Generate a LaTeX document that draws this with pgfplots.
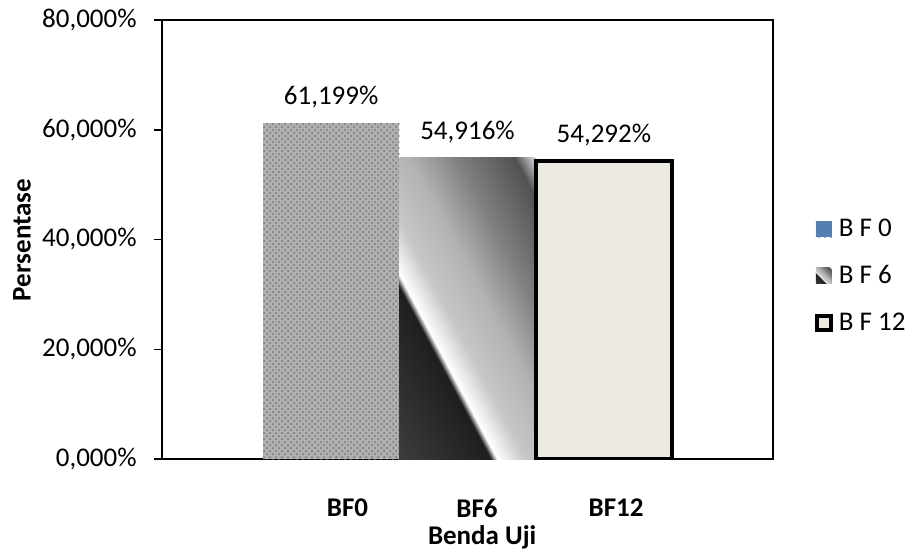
\documentclass[border=0pt]{standalone}
\usepackage{fontspec}
\setmainfont{Carlito}
\usepackage{pgfplots}
\pgfplotsset{compat=1.18}
\usetikzlibrary{patterns}

\definecolor{beige236233224}{RGB}{236,233,224}
\definecolor{steelblue79129189}{RGB}{79,129,189}
\definecolor{gray175}{RGB}{175,175,175}

\pgfdeclarehorizontalshading{bfsix}{100bp}{%
  color(0bp)=(black!75); color(14bp)=(black!75); color(37bp)=(black!88);
  color(38.5bp)=(white); color(45bp)=(black!22); color(55bp)=(black!30);
  color(66bp)=(black!50); color(79bp)=(black!68); color(85bp)=(white);
  color(100bp)=(white)}

\begin{document}
\begin{tikzpicture}[font=\fontsize{13.5}{16}\selectfont]

\begin{axis}[
at={(0,0)}, anchor=south west,
scale only axis,
width=305.5pt, height=219.5pt,
xmin=-1.24, xmax=3.24,
ymin=0, ymax=80,
axis line style={line width=0.75pt},
tick align=outside,
tick pos=left,
major tick length=4pt,
ytick={0,20,40,60,80},
ytick style={line width=0.75pt, color=black},
yticklabel={\pgfmathprintnumber[fixed,fixed zerofill,precision=3,use comma]{\tick}\%},
/pgf/number format/assume math mode=true,
yticklabel style={anchor=east, inner sep=0pt, xshift=-8.5pt},
xtick={0.12,1.07,2.09},
xticklabels={BF0,BF6,BF12},
xtick style={draw=none},
xticklabel style={font=\fontsize{13.5}{16}\selectfont\bfseries, anchor=center, inner sep=0pt, yshift=-20.5pt},
xlabel={\bfseries Benda Uji},
ylabel={\bfseries Persentase},
every axis x label/.style={at={(axis description cs:0.524,-0.178)}, anchor=center},
every axis y label/.style={at={(axis description cs:-0.229,0.499)}, rotate=90, anchor=center},
nodes near coords={\pgfmathprintnumber[fixed,fixed zerofill,precision=3,use comma]{\pgfplotspointmeta}\%},
nodes near coords style={anchor=center, yshift=13pt, /pgf/number format/assume math mode=true},
legend style={
  at={(axis description cs:1.068,0.417)},
  anchor=west,
  draw=none, fill=none,
  inner sep=0pt,
  row sep=9pt,
  font=\fontsize{13.5}{16}\selectfont,
  nodes={inner xsep=3pt}
},
legend cell align={left},
]
\addplot [ybar, bar width=1, draw=none, fill=gray175,
  postaction={pattern=crosshatch dots, pattern color=black!55},
  legend image code/.code={\fill[steelblue79129189] (0pt,-4pt) rectangle (8pt,4pt);}]
coordinates {(0,61.199)};
\addlegendentry{B F 0}
\addplot [ybar, bar width=1, draw=none, shading=bfsix, shading angle=28,
  legend image code/.code={\shade[shading=bfsix, shading angle=45] (0pt,-4pt) rectangle (8pt,4pt);}]
coordinates {(1,54.916)};
\addlegendentry{B F 6}
\addplot [ybar, bar width=1, draw=black, line width=2pt, fill=beige236233224,
  legend image code/.code={\draw[line width=2pt, fill=beige236233224] (0.5pt,-3.5pt) rectangle (7.5pt,3.5pt);}]
coordinates {(2,54.292)};
\addlegendentry{B F 12}
\end{axis}

\pgfresetboundingbox
\path[use as bounding box] (-81pt,-47pt) rectangle (372pt,229.5pt);
\end{tikzpicture}
\end{document}
